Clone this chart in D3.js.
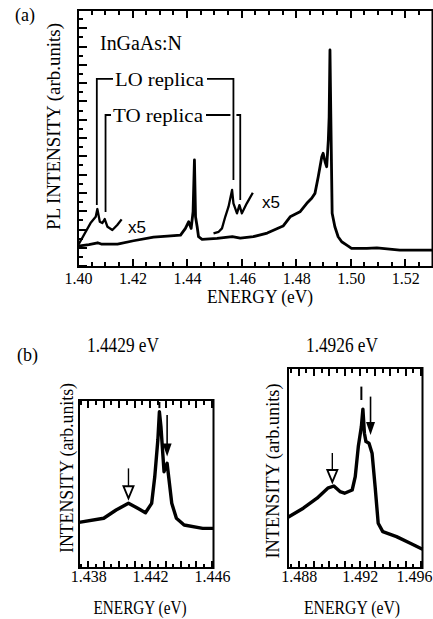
<!DOCTYPE html>
<html lang="en">
<head>
<meta charset="UTF-8">
<title>InGaAs:N PL spectra</title>
<script src="https://d3js.org/d3.v7.min.js"></script>
<style>
  body { margin: 0; background: #fff; }
  svg { display: block; }
  text { font-family: "Liberation Serif", "Times New Roman", serif; fill: #000; }
  .sans { font-family: "Liberation Sans", Arial, sans-serif; }
</style>
</head>
<body>
<div id="chart"></div>
<script>
// ---- panel (a): PL spectrum, [energy eV, intensity arb. units] ----
const spectrumA = [
  [1.4000, 2.19], [1.4040, 2.35], [1.4072, 2.55], [1.4085, 2.41], [1.4145, 2.41],
  [1.4204, 2.77], [1.4277, 3.17], [1.4328, 3.28], [1.4376, 3.39], [1.4394, 4.12],
  [1.4406, 4.85], [1.4415, 4.12], [1.4422, 5.94], [1.4427, 11.60], [1.4431, 5.39],
  [1.4437, 4.30], [1.4442, 3.21], [1.4455, 2.92], [1.4510, 3.03], [1.4566, 3.21],
  [1.4595, 3.06], [1.4643, 3.21], [1.4694, 3.61], [1.4752, 4.38], [1.4778, 5.39],
  [1.4814, 5.94], [1.4839, 6.86], [1.4857, 7.41], [1.4869, 7.95], [1.4881, 9.77],
  [1.4894, 11.96], [1.4899, 12.33], [1.4906, 11.41], [1.4912, 10.86], [1.4918, 13.79],
  [1.4921, 16.33], [1.4924, 23.63], [1.4927, 16.71], [1.4932, 5.77], [1.4942, 4.30],
  [1.4954, 3.21], [1.4967, 2.66], [1.4991, 2.19], [1.5003, 1.94], [1.5059, 1.94],
  [1.5096, 2.00], [1.5180, 1.75], [1.5300, 1.75]
];
// x5 magnified pieces
const x5Low = [
  [1.4001, 2.30], [1.4046, 4.70], [1.4065, 5.39], [1.4071, 6.24], [1.4080, 4.85],
  [1.4089, 4.70], [1.4098, 5.14], [1.4108, 4.30], [1.4126, 3.94], [1.4144, 4.49],
  [1.4160, 5.11]
];
const x5Mid = [
  [1.4497, 3.58], [1.4516, 3.75], [1.4528, 4.12], [1.4540, 5.39], [1.4552, 6.49],
  [1.4565, 8.32], [1.4570, 6.86], [1.4583, 5.77], [1.4592, 6.67], [1.4601, 5.77],
  [1.4619, 6.86], [1.4641, 8.02]
];
// replica brackets: leg energies, where each leg stops, bar height
const replicas = [
  { name: "LO replica", e1: 1.4069, stop1: 6.67, e2: 1.4570, stop2: 9.41, level: 20.46 },
  { name: "TO replica", e1: 1.4101, stop1: 5.91, e2: 1.4595, stop2: 7.22, level: 16.52 }
];
const ticksA = d3.range(0, 27).map(i => +(1.40 + i * 0.005).toFixed(3));
const ticksAMajor = ticksA.filter((d, i) => i % 4 === 0);
const ticksAY = d3.range(0, 29);

// ---- panel (b): close-ups of the two lines ----
const peak1 = [
  [1.4374, 2.72], [1.4390, 2.96], [1.4398, 3.45], [1.4406, 3.85], [1.4412, 3.55],
  [1.4417, 3.29], [1.4421, 3.85], [1.4423, 5.43], [1.4425, 7.62], [1.4426, 9.30],
  [1.4427, 8.41], [1.4429, 5.73], [1.4431, 6.23], [1.4432, 5.43], [1.4434, 3.85],
  [1.4437, 2.96], [1.4442, 2.56], [1.4454, 2.36], [1.4461, 2.36]
];
const peak2 = [
  [1.4873, 2.54], [1.4883, 2.99], [1.4892, 3.49], [1.4899, 3.99], [1.4903, 4.10],
  [1.4907, 3.82], [1.4910, 3.74], [1.4915, 3.90], [1.4917, 4.57], [1.4919, 6.07],
  [1.4921, 7.07], [1.4922, 7.94], [1.4923, 6.74], [1.4924, 6.32], [1.4926, 6.24],
  [1.4928, 5.74], [1.4930, 4.07], [1.4932, 2.24], [1.4935, 1.82], [1.4944, 1.57],
  [1.4953, 1.24], [1.4961, 0.94]
];
const titlesB = ["1.4429 eV", "1.4926 eV"];
// markers: [energy, top, bottom]
const marks1 = { bar: [1.4426, 9.88, 9.52], solid: [1.4431, 9.11, 6.63], open: [1.4406, 5.93, 4.15] };
const marks2 = { bar: [1.4921, 9.07, 8.40], solid: [1.4927, 8.57, 6.65], open: [1.4902, 5.75, 4.30] };
const ticksB1 = d3.range(0, 18).map(i => +(1.4375 + i * 0.0005).toFixed(4));
const ticksB2 = d3.range(0, 18).map(i => +(1.4875 + i * 0.0005).toFixed(4));
const labelsB1 = [1.438, 1.442, 1.446];
const labelsB2 = [1.488, 1.492, 1.496];

const svg = d3.select("#chart").append("svg")
  .attr("width", 433).attr("height", 619);

// inward tick marks along one side of a frame, one path per side
function tickMarks(g, scale, values, len, side, at) {
  const horiz = side === "bottom" || side === "top";
  const dir = (side === "bottom" || side === "right") ? -1 : 1;
  const p = d3.path();
  values.forEach(v => {
    const s = Math.round(scale(v));
    if (horiz) { p.moveTo(s, at); p.lineTo(s, at + dir * len); }
    else { p.moveTo(at, s); p.lineTo(at + dir * len, s); }
  });
  g.append("path").attr("d", p.toString())
    .attr("fill", "none").attr("stroke", "#000").attr("stroke-width", 2)
    .attr("shape-rendering", "crispEdges");
}

// ===== panel (a) =====
const xA = d3.scaleLinear().domain([1.40, 1.53]).range([78, 432.5]);
const yA = d3.scaleLinear().domain([-0.1, 28]).range([267, 10]);
const lineA = d3.line().x(d => xA(d[0])).y(d => yA(d[1]));

const ga = svg.append("g");

ga.append("rect")
  .attr("x", xA(1.40)).attr("y", yA(28))
  .attr("width", xA(1.53) - xA(1.40)).attr("height", yA(-0.1) - yA(28))
  .attr("fill", "none").attr("stroke", "#000").attr("stroke-width", 2);

tickMarks(ga, xA, ticksA, 5, "bottom", 267);
tickMarks(ga, xA, ticksAMajor, 8, "bottom", 267);
tickMarks(ga, xA, ticksA, 5, "top", 10);
tickMarks(ga, xA, ticksAMajor, 8, "top", 10);
tickMarks(ga, yA, ticksAY, 5, "left", 78);
tickMarks(ga, yA, ticksAY.filter(d => d % 2 === 0), 8.5, "left", 78);

ga.append("g").attr("transform", "translate(0,267)")
  .call(d3.axisBottom(xA).tickValues(ticksAMajor).tickSize(0).tickPadding(6).tickFormat(d3.format(".2f")))
  .call(g => g.select(".domain").remove())
  .selectAll("text").style("font-size", "16px").style("font-family", "Liberation Serif");

ga.append("path").datum(spectrumA).attr("d", lineA)
  .attr("fill", "none").attr("stroke", "#000").attr("stroke-width", 2.8).attr("stroke-linejoin", "round");
[x5Low, x5Mid].forEach(s => {
  ga.append("path").datum(s).attr("d", lineA)
    .attr("fill", "none").attr("stroke", "#000").attr("stroke-width", 2.3).attr("stroke-linejoin", "round");
});

// replica brackets
const loX2 = xA(replicas[0].e2);
replicas.forEach((r, i) => {
  const yl = yA(r.level);
  const tx0 = i === 0 ? 115 : 113, tx1 = i === 0 ? 204 : 203;
  let d = `M${xA(r.e1)},${yA(r.stop1)}V${yl}H${tx0 - 2}M${tx1 + 3},${yl}`;
  if (i === 0) {
    d += `H${xA(r.e2)}V${yA(r.stop2)}`;
  } else {
    d += `H${loX2 - 3}M${loX2 + 3},${yl}H${xA(r.e2)}V${yA(r.stop2)}`;
  }
  ga.append("path").attr("d", d).attr("fill", "none")
    .attr("stroke", "#000").attr("stroke-width", 1.8);
  ga.append("text").attr("x", tx0).attr("y", yl).attr("dy", "0.35em")
    .attr("textLength", tx1 - tx0).attr("lengthAdjust", "spacingAndGlyphs")
    .style("font-size", "19px").text(r.name);
});

ga.append("text").attr("class", "sans").attr("x", 128).attr("y", 227).attr("dy", "0.35em")
  .style("font-size", "17px").text("x5");
ga.append("text").attr("class", "sans").attr("x", 262).attr("y", 202).attr("dy", "0.35em")
  .style("font-size", "17px").text("x5");

ga.append("text").attr("x", 15).attr("y", 15).attr("dy", "0.35em")
  .style("font-size", "18px").text("(a)");
ga.append("text").attr("x", 100).attr("y", 43).attr("dy", "0.35em")
  .attr("textLength", 82).attr("lengthAdjust", "spacingAndGlyphs")
  .style("font-size", "20px").text("InGaAs:N");
ga.append("text").attr("text-anchor", "middle")
  .attr("transform", "translate(60,126.5) rotate(-90)")
  .attr("textLength", 207).attr("lengthAdjust", "spacingAndGlyphs")
  .style("font-size", "18px").text("PL INTENSITY (arb.units)");
ga.append("text").attr("x", 260).attr("y", 297).attr("dy", "0.35em").attr("text-anchor", "middle")
  .attr("textLength", 106).attr("lengthAdjust", "spacingAndGlyphs")
  .style("font-size", "18px").text("ENERGY (eV)");

// ===== panel (b) =====
svg.append("text").attr("x", 17).attr("y", 355).attr("dy", "0.35em")
  .style("font-size", "18px").text("(b)");

function drawPanelB(cfg) {
  const x = d3.scaleLinear().domain(cfg.xDomain).range(cfg.xRange);
  const y = d3.scaleLinear().domain([0, 10]).range([568, cfg.top]);
  const g = svg.append("g");
  const line = d3.line().x(d => x(d[0])).y(d => y(d[1]));

  g.append("rect")
    .attr("x", cfg.xRange[0]).attr("y", cfg.top)
    .attr("width", cfg.xRange[1] - cfg.xRange[0]).attr("height", 568 - cfg.top)
    .attr("fill", "none").attr("stroke", "#000").attr("stroke-width", 2);

  const longTicks = cfg.ticks.filter((d, i) => i % 2 === 1);
  tickMarks(g, x, cfg.ticks, 4.5, "bottom", 568);
  tickMarks(g, x, longTicks, 7.5, "bottom", 568);
  tickMarks(g, x, cfg.ticks, 4.5, "top", cfg.top);
  tickMarks(g, x, longTicks, 7.5, "top", cfg.top);

  const lab = g.append("g").attr("transform", "translate(0,568)")
    .call(d3.axisBottom(x).tickValues(cfg.labels).tickSize(0).tickPadding(3).tickFormat(d3.format(".3f")))
    .call(s => s.select(".domain").remove());
  lab.selectAll("text").style("font-size", "16px").style("font-family", "Liberation Serif");
  if (cfg.clampLast) {
    // keep the last label inside the window
    lab.selectAll(".tick").filter(d => d === cfg.labels[cfg.labels.length - 1]).select("text")
      .attr("text-anchor", "end").attr("x", cfg.clampLast - x(cfg.labels[cfg.labels.length - 1]));
  }

  g.append("path").datum(cfg.data).attr("d", line)
    .attr("fill", "none").attr("stroke", "#000").attr("stroke-width", 3.4).attr("stroke-linejoin", "round");

  // markers
  const m = cfg.marks;
  g.append("line").attr("x1", x(m.bar[0])).attr("x2", x(m.bar[0]))
    .attr("y1", y(m.bar[1])).attr("y2", y(m.bar[2]))
    .attr("stroke", "#000").attr("stroke-width", 2);
  const sx = x(m.solid[0]), sTip = y(m.solid[2]);
  g.append("line").attr("x1", sx).attr("x2", sx).attr("y1", y(m.solid[1])).attr("y2", sTip - 10)
    .attr("stroke", "#000").attr("stroke-width", 1.6);
  g.append("path").attr("d", `M${sx - 4.5},${sTip - 13}L${sx + 4.5},${sTip - 13}L${sx},${sTip}Z`)
    .attr("fill", "#000");
  const ox = x(m.open[0]), oTip = y(m.open[2]);
  g.append("line").attr("x1", ox).attr("x2", ox).attr("y1", y(m.open[1])).attr("y2", oTip - 12)
    .attr("stroke", "#000").attr("stroke-width", 1.4);
  g.append("path").attr("d", `M${ox - 5},${oTip - 12}L${ox + 5},${oTip - 12}L${ox},${oTip}Z`)
    .attr("fill", "#fff").attr("stroke", "#000").attr("stroke-width", 1.9).attr("stroke-linejoin", "miter");

  // texts
  g.append("text").attr("x", cfg.titleX).attr("y", 345).attr("dy", "0.35em").attr("text-anchor", "middle")
    .attr("textLength", 72).attr("lengthAdjust", "spacingAndGlyphs")
    .style("font-size", "21px").text(cfg.title);
  g.append("text").attr("x", cfg.xLabelX).attr("y", 607).attr("dy", "0.35em").attr("text-anchor", "middle")
    .attr("textLength", cfg.xLabelLen).attr("lengthAdjust", "spacingAndGlyphs")
    .style("font-size", "19px").text("ENERGY (eV)");
  g.append("text").attr("text-anchor", "middle")
    .attr("transform", `translate(${cfg.yLabelX},${cfg.yLabelY}) rotate(-90)`)
    .attr("textLength", cfg.yLabelLen).attr("lengthAdjust", "spacingAndGlyphs")
    .style("font-size", "18px").text("INTENSITY (arb.units)");
}

drawPanelB({
  data: peak1, xDomain: [1.4374, 1.4461], xRange: [79, 213.5], top: 400,
  ticks: ticksB1, labels: labelsB1, marks: marks1, title: titlesB[0], titleX: 123,
  xLabelX: 140, xLabelLen: 93, yLabelX: 73, yLabelY: 468, yLabelLen: 170
});
drawPanelB({
  data: peak2, xDomain: [1.4873, 1.4961], xRange: [288, 422.5], top: 368,
  ticks: ticksB2, labels: labelsB2, marks: marks2, title: titlesB[1], titleX: 342,
  xLabelX: 352, xLabelLen: 96, yLabelX: 279, yLabelY: 471, yLabelLen: 175,
  clampLast: 432
});
</script>
</body>
</html>
